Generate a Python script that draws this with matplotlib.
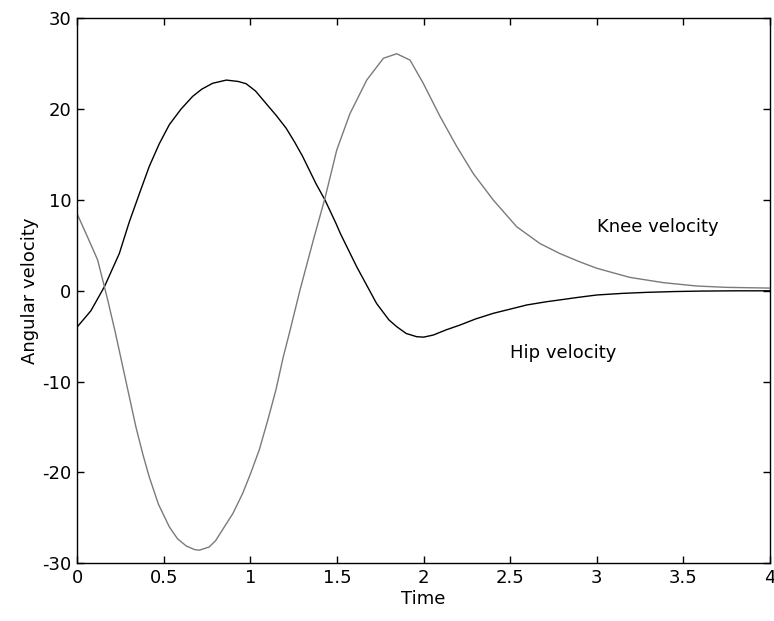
import matplotlib
matplotlib.use('Agg')
import matplotlib.pyplot as plt

plt.rcParams['font.family'] = ['DejaVu Sans']

# hip angular velocity
hip_t = [0, 0.08, 0.158, 0.244, 0.302, 0.36, 0.417, 0.475, 0.533, 0.6,
         0.667, 0.72, 0.783, 0.862, 0.93, 0.976, 1.03, 1.092, 1.15, 1.207,
         1.255, 1.302, 1.379, 1.431, 1.495, 1.52, 1.614, 1.729, 1.8, 1.845,
         1.9, 1.96, 2.0, 2.056, 2.13, 2.21, 2.3, 2.402, 2.518, 2.595,
         2.71, 2.787, 2.9, 3.0, 3.15, 3.287, 3.45, 3.6, 3.8, 4.0]
hip_w = [-4.0, -2.2, 0.45, 4.1, 7.6, 10.7, 13.7, 16.2, 18.3, 20.0,
         21.4, 22.2, 22.85, 23.2, 23.05, 22.8, 22.0, 20.6, 19.3, 17.9,
         16.4, 14.8, 11.8, 10.0, 7.4, 6.3, 2.65, -1.4, -3.2, -3.95,
         -4.7, -5.05, -5.1, -4.87, -4.3, -3.77, -3.1, -2.48, -1.93, -1.56,
         -1.2, -1.0, -0.7, -0.46, -0.28, -0.17, -0.08, -0.03, 0.0, 0.0]

# knee angular velocity
knee_t = [0, 0.052, 0.119, 0.158, 0.177, 0.22, 0.26, 0.30, 0.34, 0.38,
          0.417, 0.47, 0.533, 0.58, 0.631, 0.68, 0.707, 0.763, 0.80, 0.84,
          0.90, 0.956, 1.0, 1.052, 1.10, 1.148, 1.19, 1.225, 1.287,
          1.364, 1.431, 1.499, 1.575, 1.672, 1.768, 1.845, 1.922, 1.998, 2.095,
          2.191, 2.287, 2.402, 2.537, 2.672, 2.787, 2.9, 3.0, 3.19, 3.383,
          3.576, 3.749, 4.0]
knee_w = [8.5, 6.3, 3.4, 0.45, -1.0, -4.5, -8.0, -11.5, -15.0, -18.0,
          -20.5, -23.5, -26.0, -27.3, -28.1, -28.5, -28.55, -28.2, -27.5, -26.3,
          -24.5, -22.3, -20.2, -17.5, -14.3, -10.9, -7.3, -4.7, 0.1,
          5.6, 10.2, 15.5, 19.5, 23.2, 25.6, 26.1, 25.4, 22.85, 19.2,
          15.9, 12.9, 10.0, 7.06, 5.2, 4.1, 3.2, 2.48, 1.48, 0.9,
          0.53, 0.38, 0.3]

x_ticks = [0, 0.5, 1, 1.5, 2, 2.5, 3, 3.5, 4]
x_tick_labels = ['0', '0.5', '1', '1.5', '2', '2.5', '3', '3.5', '4']
y_ticks = [-30, -20, -10, 0, 10, 20, 30]
y_tick_labels = ['-30', '-20', '-10', '0', '10', '20', '30']

fig = plt.figure(figsize=(7.74, 6.21), dpi=100)
ax = fig.add_axes([0.0995, 0.0929, 0.8955, 0.8776])

ax.plot(hip_t, hip_w, color='black', linewidth=1.0)
ax.plot(knee_t, knee_w, color='#7a7a7a', linewidth=1.0)

ax.text(3.0, 7.0, 'Knee velocity', fontsize=13, va='center', ha='left')
ax.text(2.5, -6.9, 'Hip velocity', fontsize=13, va='center', ha='left')

ax.set_xlim(0, 4)
ax.set_ylim(-30, 30)
ax.set_xticks(x_ticks)
ax.set_xticklabels(x_tick_labels)
ax.set_yticks(y_ticks)
ax.set_yticklabels(y_tick_labels)
ax.tick_params(direction='in', length=5, width=1, top=True, right=True,
               labelsize=13, pad=4)
for s in ax.spines.values():
    s.set_linewidth(1.0)

ax.set_xlabel('Time', fontsize=13, labelpad=2)
ax.set_ylabel('Angular velocity', fontsize=13, labelpad=2)

fig.savefig('out.png', dpi=100)
